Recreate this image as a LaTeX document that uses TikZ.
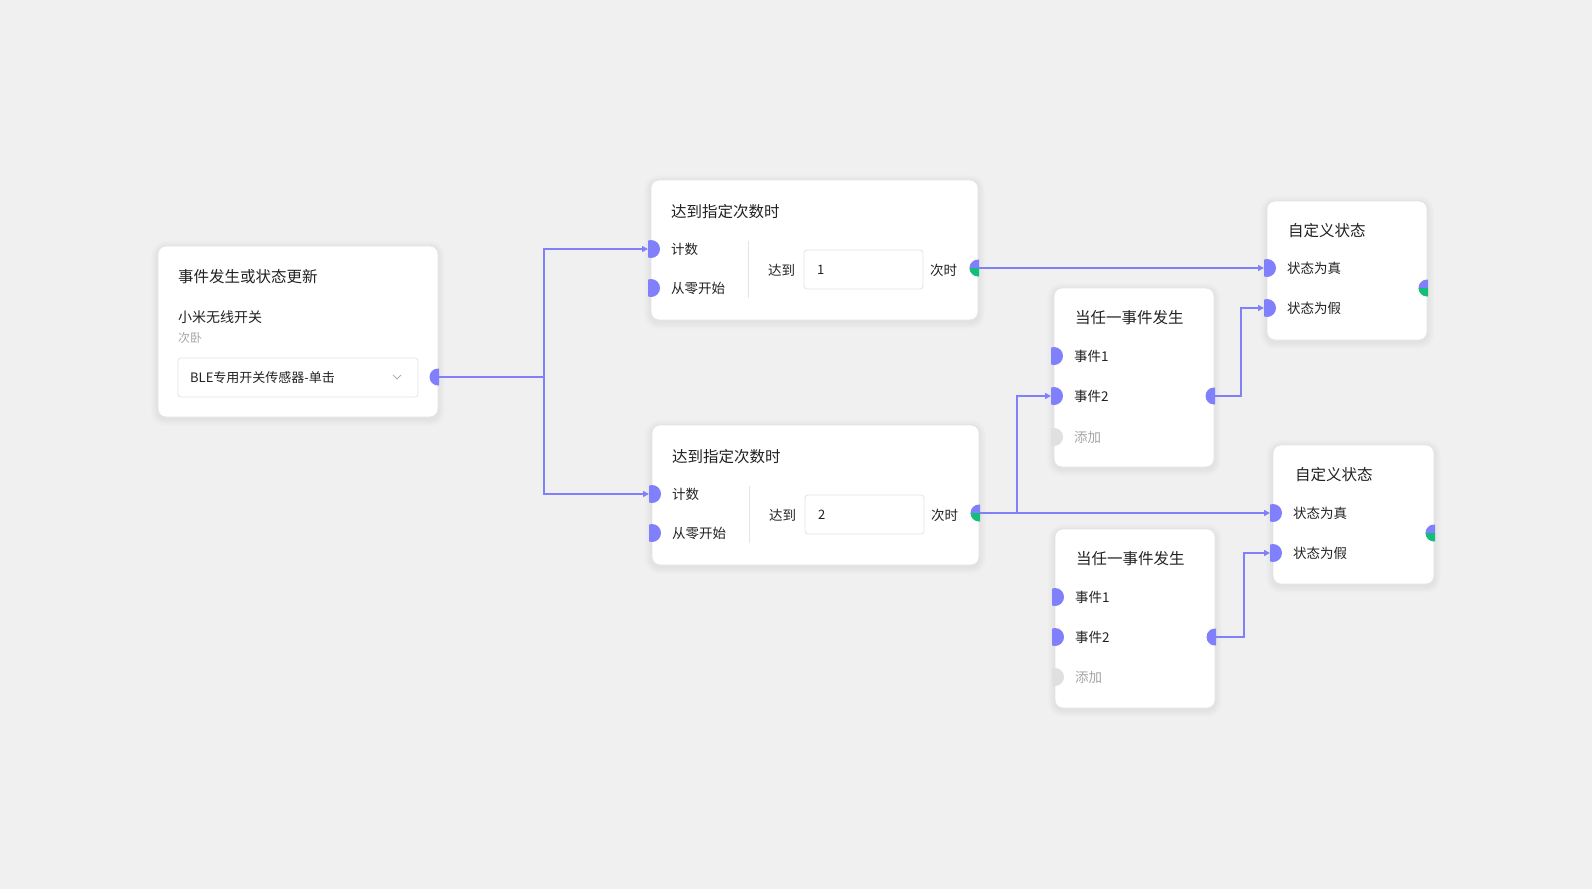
\documentclass[tikz,border=0pt]{standalone}
\usepackage{fontspec}
\setmainfont{Noto Sans CJK SC}
\usetikzlibrary{arrows.meta,fit}
\definecolor{bg}{RGB}{240,240,240}
\definecolor{cardline}{RGB}{228,228,228}
\definecolor{portblue}{RGB}{128,128,252}
\definecolor{portgreen}{RGB}{18,190,122}
\definecolor{portgrey}{RGB}{224,224,224}
\definecolor{wirec}{RGB}{128,128,248}
\definecolor{txt}{RGB}{34,34,34}
\definecolor{subc}{RGB}{165,165,165}
\definecolor{chev}{RGB}{175,175,175}

\tikzset{
  card/.style={draw=cardline, line width=0.8pt, fill=white, rounded corners=8pt, inner sep=0pt},
  field/.style={draw=cardline, line width=0.8pt, fill=white, rounded corners=3pt, inner sep=0pt},
  ttl/.style={anchor=west, inner sep=0pt, text=txt, font=\fontsize{15.5}{18}\selectfont},
  lbl/.style={anchor=west, inner sep=0pt, text=txt, font=\fontsize{13.5}{16}\selectfont},
  lblsm/.style={anchor=west, inner sep=0pt, text=txt, font=\fontsize{13}{15}\selectfont},
  subl/.style={anchor=west, inner sep=0pt, text=subc, font=\fontsize{12}{14}\selectfont},
  addl/.style={anchor=west, inner sep=0pt, text=subc, font=\fontsize{13.5}{16}\selectfont},
  divline/.style={draw=cardline, line width=0.8pt},
  conn/.style={draw=wirec, line width=2pt, -{Triangle[length=6pt,width=6pt]}},
}

\newcommand\mkcard[5]{%
  \foreach \i in {1,...,7} {\fill[black, opacity=0.008, rounded corners=8+\i] (#2-\i,#3-\i+2) rectangle (#4+\i,#5+\i+2);}
  \node[card, fit={(#2,#3)(#4,#5)}] (#1) {};
}
\newcommand\inport[4]{%
  \begin{scope}\clip (#2-3,#3-10) rectangle (#2+10,#3+10); \fill[#4] (#2,#3) circle[radius=9]; \end{scope}
  \coordinate (#1) at (#2-3,#3);
}
\newcommand\outport[3]{%
  \begin{scope}\clip (#2-10,#3-10) rectangle (#2+1,#3+10); \fill[portblue] (#2,#3) circle[radius=8.5]; \end{scope}
  \coordinate (#1) at (#2+1,#3);
}
\newcommand\outportmix[3]{%
  \begin{scope}\clip (#2-10,#3-10) rectangle (#2+1,#3); \fill[portblue] (#2,#3) circle[radius=8.5]; \end{scope}
  \begin{scope}\clip (#2-10,#3) rectangle (#2+1,#3+10); \fill[portgreen] (#2,#3) circle[radius=8.5]; \end{scope}
  \coordinate (#1) at (#2+1,#3);
}

\begin{document}
\begin{tikzpicture}[x=1pt,y=-1pt]
\fill[bg] (0,0) rectangle (1592,889);
\useasboundingbox (0,0) rectangle (1592,889);

% ---------- cards ----------
\mkcard{A}{158}{246}{438}{417}
\mkcard{B1}{651}{180}{978}{320}
\mkcard{B2}{652}{425}{979}{565}
\mkcard{C1}{1054}{288}{1214}{467}
\mkcard{C2}{1055}{529}{1215}{708}
\mkcard{D1}{1267}{201}{1427}{340}
\mkcard{D2}{1273}{445}{1434}{584}

% ---------- card A ----------
\node[ttl] (At) at (178,277) {事件发生或状态更新};
\node[lbl, font=\fontsize{14}{16}\selectfont] (Adev) at (178,317) {小米无线开关};
\node[subl] (Aroom) at (178,338) {次卧};
\node[field, fit={(178,358)(418,397)}] (Afield) {};
\node[lblsm] (Aval) at (190,378) {BLE专用开关传感器-单击};
\draw[chev, line width=0.9pt] (393,375) -- (397,379) -- (401,375);

% ---------- card B1 ----------
\node[ttl] (B1t) at (671,212) {达到指定次数时};
\node[lbl] (B1l1) at (671,249) {计数};
\node[lbl] (B1l2) at (671,288) {从零开始};
\draw[divline] (748,241) -- (748,298);
\node[lbl] (B1reach) at (768,270) {达到};
\node[field, fit={(804,250)(923,289)}] (B1field) {};
\node[lblsm] (B1v) at (817,270) {1};
\node[lbl] (B1times) at (930,270) {次时};

% ---------- card B2 ----------
\node[ttl] (B2t) at (672,457) {达到指定次数时};
\node[lbl] (B2l1) at (672,494) {计数};
\node[lbl] (B2l2) at (672,533) {从零开始};
\draw[divline] (749,486) -- (749,543);
\node[lbl] (B2reach) at (769,515) {达到};
\node[field, fit={(805,495)(924,534)}] (B2field) {};
\node[lblsm] (B2v) at (818,515) {2};
\node[lbl] (B2times) at (931,515) {次时};

% ---------- card C1 ----------
\node[ttl] (C1t) at (1075,318) {当任一事件发生};
\node[lbl] (C1l1) at (1074,356) {事件1};
\node[lbl] (C1l2) at (1074,396) {事件2};
\node[addl] (C1l3) at (1074,437) {添加};

% ---------- card C2 ----------
\node[ttl] (C2t) at (1076,559) {当任一事件发生};
\node[lbl] (C2l1) at (1075,597) {事件1};
\node[lbl] (C2l2) at (1075,637) {事件2};
\node[addl] (C2l3) at (1075,677) {添加};

% ---------- card D1 ----------
\node[ttl] (D1t) at (1288,231) {自定义状态};
\node[lbl] (D1l1) at (1287,268) {状态为真};
\node[lbl] (D1l2) at (1287,308) {状态为假};

% ---------- card D2 ----------
\node[ttl] (D2tt) at (1295,475) {自定义状态};
\node[lbl] (D2l1) at (1293,513) {状态为真};
\node[lbl] (D2l2) at (1293,553) {状态为假};

% ---------- port coordinates ----------
\coordinate (Asplit) at (544,377);
\coordinate (B2split) at (1017,513);
\coordinate (C1bend) at (1241,396);
\coordinate (C2bend) at (1244,637);
\coordinate (Aoutc) at (439,377);
\coordinate (B1inc) at (648,249);
\coordinate (B2inc) at (649,494);
\coordinate (B1outc) at (979,268);
\coordinate (B2outc) at (980,513);
\coordinate (C1e2c) at (1051,396);
\coordinate (C1outc) at (1215,396);
\coordinate (C2outc) at (1216,637);
\coordinate (D1tc) at (1264,268);
\coordinate (D1fc) at (1264,308);
\coordinate (D2tc) at (1270,513);
\coordinate (D2fc) at (1270,553);

% ---------- connectors ----------
\draw[conn] (Aoutc) -- (Asplit) |- (B1inc);
\draw[conn] (Asplit) |- (B2inc);
\draw[conn] (B1outc) -- (D1tc);
\draw[conn] (B2outc) -- (D2tc);
\draw[conn] (B2split) |- (C1e2c);
\draw[conn] (C1outc) -- (C1bend) |- (D1fc);
\draw[conn] (C2outc) -- (C2bend) |- (D2fc);

% ---------- ports ----------
\outport{Aout}{438}{377}
\inport{B1in1}{651}{249}{portblue}
\inport{B1in2}{651}{288}{portblue}
\outportmix{B1out}{978}{268}
\inport{B2in1}{652}{494}{portblue}
\inport{B2in2}{652}{533}{portblue}
\outportmix{B2out}{979}{513}
\inport{C1in1}{1054}{356}{portblue}
\inport{C1in2}{1054}{396}{portblue}
\inport{C1in3}{1054}{437}{portgrey}
\outport{C1out}{1214}{396}
\inport{C2in1}{1055}{597}{portblue}
\inport{C2in2}{1055}{637}{portblue}
\inport{C2in3}{1055}{677}{portgrey}
\outport{C2out}{1215}{637}
\inport{D1in1}{1267}{268}{portblue}
\inport{D1in2}{1267}{308}{portblue}
\outportmix{D1out}{1427}{288}
\inport{D2in1}{1273}{513}{portblue}
\inport{D2in2}{1273}{553}{portblue}
\outportmix{D2out}{1434}{533}
\end{tikzpicture}
\end{document}
